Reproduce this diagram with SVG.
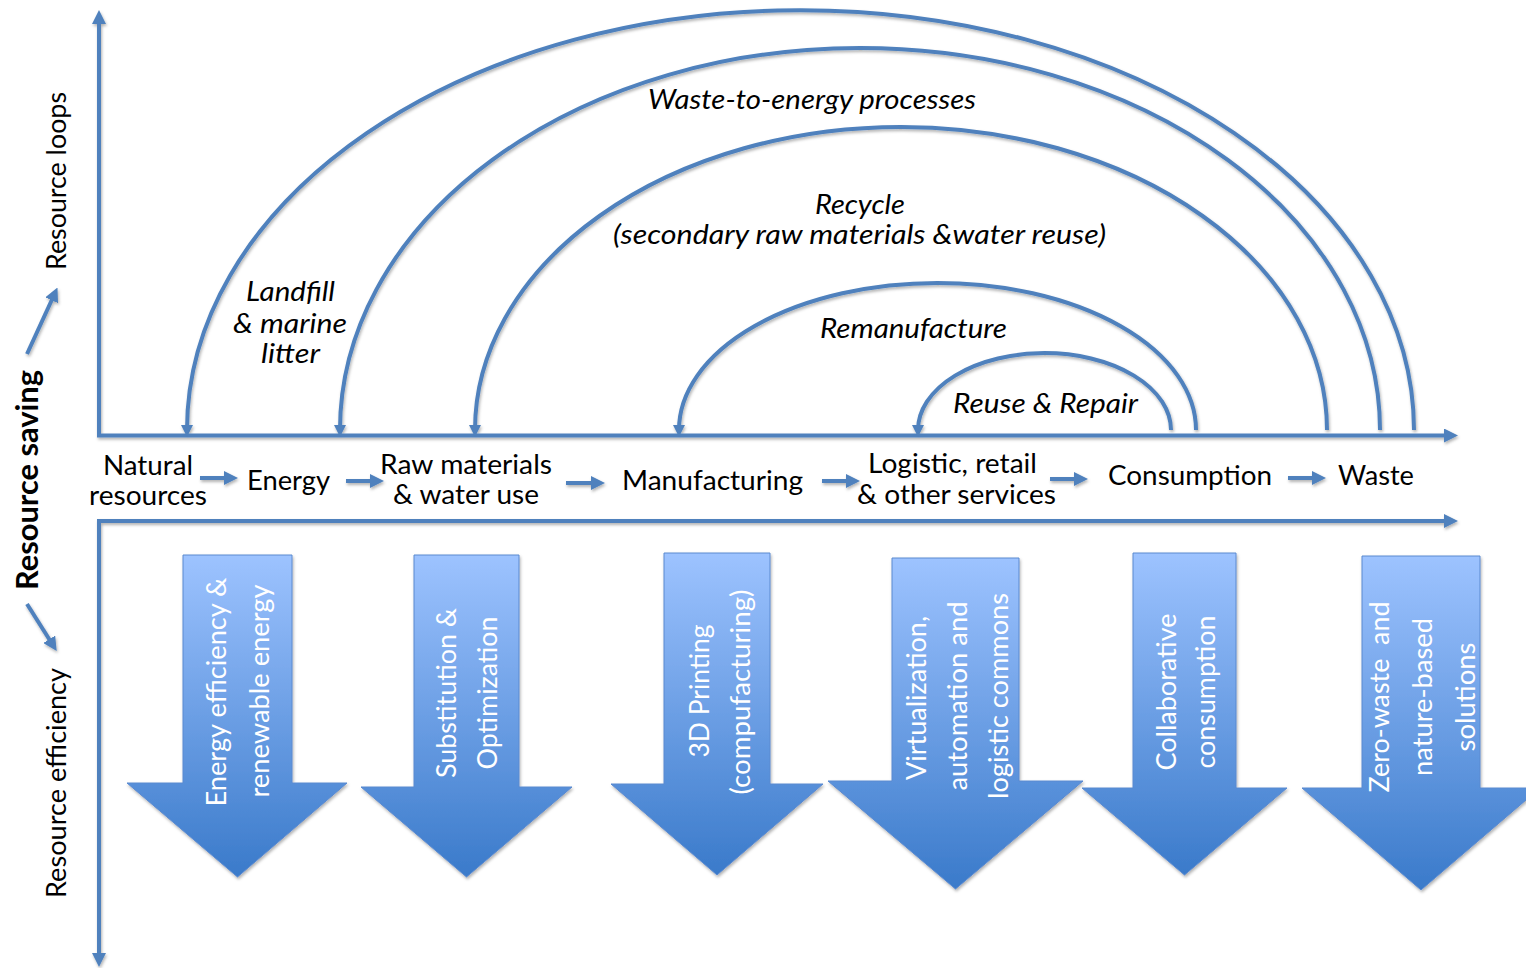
<svg xmlns="http://www.w3.org/2000/svg" width="1526" height="968" viewBox="0 0 1526 968">
  <style>
    .ln{fill:none;stroke:#4F81BD;stroke-width:4}
    .t{font-family:Lato,"Liberation Sans",sans-serif;font-size:27px;fill:#000;text-anchor:middle}
    .two{font-size:26px}
    .it{font-style:italic}
    .side{font-size:26px}
    .bold{font-weight:bold;font-size:30px}
    .blk{fill:url(#blkGrad);stroke:#5B8AD0;stroke-width:1}
    .bt{font-family:Lato,"Liberation Sans",sans-serif;font-size:26px;fill:#fff;text-anchor:middle}
  </style>
  <defs>
    <marker id="ah" markerUnits="userSpaceOnUse" viewBox="0 0 14 14" markerWidth="14" markerHeight="14" refX="8" refY="7" orient="auto-start-reverse">
      <path d="M0,0 L14,7 L0,14 z" fill="#4F81BD"/>
    </marker>
    <marker id="ahArc" markerUnits="userSpaceOnUse" viewBox="0 0 12 12" markerWidth="12" markerHeight="12" refX="5" refY="6" orient="auto">
      <path d="M0,0 L12,6 L0,12 z" fill="#4F81BD"/>
    </marker>
    <linearGradient id="blkGrad" x1="0" y1="0" x2="0" y2="1">
      <stop offset="0" stop-color="#9DC3FF"/>
      <stop offset="1" stop-color="#3A7ACA"/>
    </linearGradient>
    <filter id="sh" x="-5%" y="-5%" width="110%" height="110%">
      <feDropShadow dx="1" dy="2" stdDeviation="1.5" flood-color="#000" flood-opacity="0.3"/>
    </filter>
  </defs>
  <rect width="1526" height="968" fill="#fff"/>

  <!-- connectors: axes, loops and flow arrows -->
  <g id="connectors" filter="url(#sh)">
    <path class="ln" d="M99,16 L99,435.5 L1452,435.5" marker-start="url(#ah)" marker-end="url(#ah)"/>
    <path class="ln" d="M1452,521 L99,521 L99,961" marker-start="url(#ah)" marker-end="url(#ah)"/>
    <path class="ln" d="M1414,430 A613.5,420 0 0 0 187,430" marker-end="url(#ahArc)"/>
    <path class="ln" d="M1380,430 A520,382 0 0 0 340,430" marker-end="url(#ahArc)"/>
    <path class="ln" d="M1327,430 A426,303 0 0 0 475,430" marker-end="url(#ahArc)"/>
    <path class="ln" d="M1196,430 A258.5,147 0 0 0 679,430" marker-end="url(#ahArc)"/>
    <path class="ln" d="M1171,430 A126.5,77 0 0 0 918,430" marker-end="url(#ahArc)"/>
    <path class="ln" d="M200,478 L232,478" marker-end="url(#ah)"/>
    <path class="ln" d="M346,481 L378,481" marker-end="url(#ah)"/>
    <path class="ln" d="M566,483 L599,483" marker-end="url(#ah)"/>
    <path class="ln" d="M822,481 L854,481" marker-end="url(#ah)"/>
    <path class="ln" d="M1050,479 L1082,479" marker-end="url(#ah)"/>
    <path class="ln" d="M1288,478 L1320,478" marker-end="url(#ah)"/>
    <path class="ln" d="M27,354 L55,293" marker-end="url(#ah)"/>
    <path class="ln" d="M27,604 L53.5,646" marker-end="url(#ah)"/>
  </g>

  <!-- side labels -->
  <g id="label-loops">
    <text class="t side" transform="translate(66,181) rotate(-90)" textLength="178" lengthAdjust="spacingAndGlyphs">Resource loops</text>
  </g>
  <g id="label-saving">
    <text class="t bold" transform="translate(38,480) rotate(-90)" textLength="220" lengthAdjust="spacingAndGlyphs">Resource saving</text>
  </g>
  <g id="label-efficiency">
    <text class="t side" transform="translate(66,783) rotate(-90)" textLength="230" lengthAdjust="spacingAndGlyphs">Resource efficiency</text>
  </g>

  <!-- loop labels -->
  <g id="loop-landfill">
    <text class="t it" x="290.5" y="301" textLength="89" lengthAdjust="spacingAndGlyphs">Landfill</text>
    <text class="t it" x="290" y="333" textLength="114" lengthAdjust="spacingAndGlyphs">&amp; marine</text>
    <text class="t it" x="290.5" y="363" textLength="59" lengthAdjust="spacingAndGlyphs">litter</text>
  </g>
  <g id="loop-energy">
    <text class="t it" x="812" y="109" textLength="328" lengthAdjust="spacingAndGlyphs">Waste-to-energy processes</text>
  </g>
  <g id="loop-recycle">
    <text class="t it" x="860" y="214" textLength="90" lengthAdjust="spacingAndGlyphs">Recycle</text>
    <text class="t it" x="859.5" y="244" textLength="493" lengthAdjust="spacingAndGlyphs">(secondary raw materials &amp;water reuse)</text>
  </g>
  <g id="loop-remanufacture">
    <text class="t it" x="913.5" y="338" textLength="187" lengthAdjust="spacingAndGlyphs">Remanufacture</text>
  </g>
  <g id="loop-reuse">
    <text class="t it" x="1045.5" y="413" textLength="185" lengthAdjust="spacingAndGlyphs">Reuse &amp; Repair</text>
  </g>

  <!-- value chain stages -->
  <g id="stage-natural">
    <text class="t two" x="148" y="475" textLength="90" lengthAdjust="spacingAndGlyphs">Natural</text>
    <text class="t two" x="148" y="505" textLength="118" lengthAdjust="spacingAndGlyphs">resources</text>
  </g>
  <g id="stage-energy">
    <text class="t" x="288.5" y="490" textLength="83" lengthAdjust="spacingAndGlyphs">Energy</text>
  </g>
  <g id="stage-raw">
    <text class="t two" x="466" y="474" textLength="172" lengthAdjust="spacingAndGlyphs">Raw materials</text>
    <text class="t two" x="466" y="504" textLength="146" lengthAdjust="spacingAndGlyphs">&amp; water use</text>
  </g>
  <g id="stage-manufacturing">
    <text class="t" x="712.5" y="490" textLength="181" lengthAdjust="spacingAndGlyphs">Manufacturing</text>
  </g>
  <g id="stage-logistic">
    <text class="t two" x="952.5" y="473" textLength="169" lengthAdjust="spacingAndGlyphs">Logistic, retail</text>
    <text class="t two" x="956.5" y="504" textLength="199" lengthAdjust="spacingAndGlyphs">&amp; other services</text>
  </g>
  <g id="stage-consumption">
    <text class="t" x="1190" y="485" textLength="164" lengthAdjust="spacingAndGlyphs">Consumption</text>
  </g>
  <g id="stage-waste">
    <text class="t" x="1376" y="485" textLength="76" lengthAdjust="spacingAndGlyphs">Waste</text>
  </g>

  <!-- efficiency strategies -->
  <g id="strategy-energy">
    <polygon class="blk" filter="url(#sh)" points="183,555 292,555 292,783 347,783 237.5,877 127,783 183,783"/>
    <text class="bt" transform="translate(226,692) rotate(-90)" textLength="229" lengthAdjust="spacingAndGlyphs">Energy efficiency &amp;</text>
    <text class="bt" transform="translate(269,691) rotate(-90)" textLength="213" lengthAdjust="spacingAndGlyphs">renewable energy</text>
  </g>
  <g id="strategy-substitution">
    <polygon class="blk" filter="url(#sh)" points="414,555 519,555 519,787 572,787 466.5,877 361,787 414,787"/>
    <text class="bt" transform="translate(456,693) rotate(-90)" textLength="170" lengthAdjust="spacingAndGlyphs">Substitution &amp;</text>
    <text class="bt" transform="translate(497,693) rotate(-90)" textLength="153" lengthAdjust="spacingAndGlyphs">Optimization</text>
  </g>
  <g id="strategy-printing">
    <polygon class="blk" filter="url(#sh)" points="664,553 770,553 770,784 823,784 717,875 611,784 664,784"/>
    <text class="bt" transform="translate(709,691) rotate(-90)" textLength="133" lengthAdjust="spacingAndGlyphs">3D Printing</text>
    <text class="bt" transform="translate(750,692) rotate(-90)" textLength="205" lengthAdjust="spacingAndGlyphs">(compufacturing)</text>
  </g>
  <g id="strategy-virtualization">
    <polygon class="blk" filter="url(#sh)" points="892,558 1019,558 1019,781 1083,781 955.5,889 828,781 892,781"/>
    <text class="bt" transform="translate(926,698) rotate(-90)" textLength="164" lengthAdjust="spacingAndGlyphs">Virtualization,</text>
    <text class="bt" transform="translate(967,696) rotate(-90)" textLength="189" lengthAdjust="spacingAndGlyphs">automation and</text>
    <text class="bt" transform="translate(1008,696) rotate(-90)" textLength="206" lengthAdjust="spacingAndGlyphs">logistic commons</text>
  </g>
  <g id="strategy-collaborative">
    <polygon class="blk" filter="url(#sh)" points="1133,553 1236,553 1236,788 1287,788 1184.5,875 1082,788 1133,788"/>
    <text class="bt" transform="translate(1176,692) rotate(-90)" textLength="157" lengthAdjust="spacingAndGlyphs">Collaborative</text>
    <text class="bt" transform="translate(1215,692) rotate(-90)" textLength="153" lengthAdjust="spacingAndGlyphs">consumption</text>
  </g>
  <g id="strategy-zerowaste">
    <polygon class="blk" filter="url(#sh)" points="1362,556 1480,556 1480,788 1540,788 1421,890 1302,788 1362,788"/>
    <text class="bt" style="white-space:pre" transform="translate(1389,697) rotate(-90)" textLength="191" lengthAdjust="spacingAndGlyphs">Zero-waste  and</text>
    <text class="bt" transform="translate(1432,697) rotate(-90)" textLength="158" lengthAdjust="spacingAndGlyphs">nature-based</text>
    <text class="bt" transform="translate(1475,697) rotate(-90)" textLength="109" lengthAdjust="spacingAndGlyphs">solutions</text>
  </g>
</svg>
